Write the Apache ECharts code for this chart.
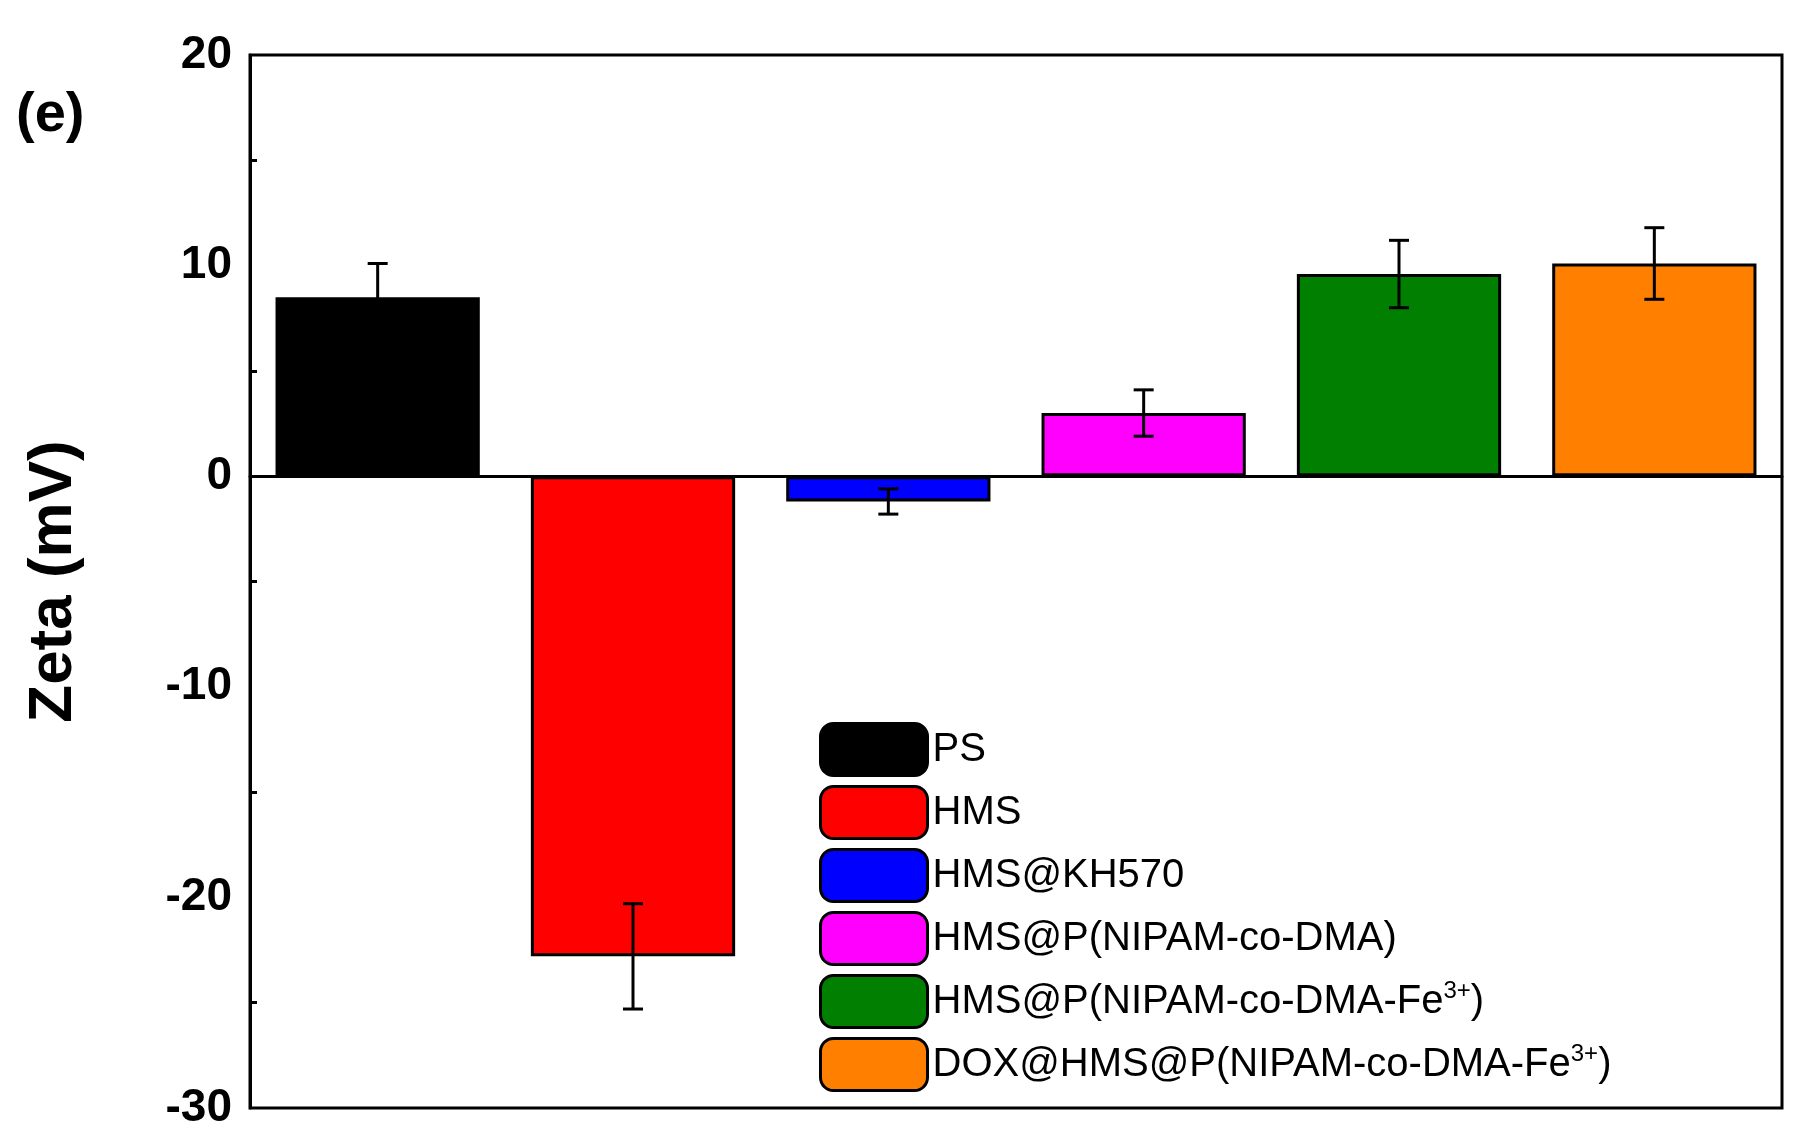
<!DOCTYPE html>
<html><head><meta charset="utf-8">
<script src="https://cdn.jsdelivr.net/npm/echarts@6/dist/echarts.min.js"></script>
<style>html,body{margin:0;padding:0;background:#fff}#c{width:1796px;height:1148px}</style>
</head><body><div id="c"></div>
<script>
const samples = ['PS', 'HMS', 'HMS@KH570', 'HMS@P(NIPAM-co-DMA)', 'HMS@P(NIPAM-co-DMA-Fe3+)', 'DOX@HMS@P(NIPAM-co-DMA-Fe3+)'];
const legendText = ['PS', 'HMS', 'HMS@KH570', 'HMS@P(NIPAM-co-DMA)', 'HMS@P(NIPAM-co-DMA-Fe{s|3+})', 'DOX@HMS@P(NIPAM-co-DMA-Fe{s|3+})'];
const zeta = [8.5, -22.8, -1.2, 3.0, 9.6, 10.1];
const errs = [1.6, 2.5, 0.6, 1.1, 1.6, 1.7];
const colors = ['#000000', '#ff0000', '#0000ff', '#ff00ff', '#007f00', '#ff8000'];

const chart = echarts.init(document.getElementById('c'));
const font = 'Liberation Sans';

const barSeries = samples.map((s, i) => ({
  name: s, type: 'bar', stack: 'z', barWidth: '80%',
  data: samples.map((_, j) => j === i ? zeta[j] : '-'),
  itemStyle: { color: colors[i], borderColor: '#000', borderWidth: 3 }
}));

const errSeries = {
  type: 'custom', z: 10,
  data: zeta.map((v, i) => [i, v - errs[i], v + errs[i]]),
  renderItem: (params, api) => {
    const lo = api.coord([api.value(0), api.value(1)]);
    const hi = api.coord([api.value(0), api.value(2)]);
    const w = 10;
    const st = { stroke: '#000', lineWidth: 3 };
    return { type: 'group', children: [
      { type: 'line', shape: { x1: lo[0], y1: lo[1], x2: hi[0], y2: hi[1] }, style: st },
      { type: 'line', shape: { x1: lo[0] - w, y1: lo[1], x2: lo[0] + w, y2: lo[1] }, style: st },
      { type: 'line', shape: { x1: hi[0] - w, y1: hi[1], x2: hi[0] + w, y2: hi[1] }, style: st }
    ]};
  }
};

chart.setOption({
  animation: false,
  textStyle: { fontFamily: font },
  grid: { left: 250, right: 14, top: 55, bottom: 40, show: true, borderColor: '#000', borderWidth: 3 },
  legend: {
    orient: 'vertical', left: 814, top: 717,
    itemWidth: 107, itemHeight: 52, itemGap: 8,
    data: samples,
    formatter: name => legendText[samples.indexOf(name)],
    textStyle: { fontSize: 40, color: '#000', fontFamily: font,
      rich: { s: { fontSize: 24, verticalAlign: 'top', padding: [0, 0, 20, 0], fontFamily: font } } },
    itemStyle: { borderColor: '#000', borderWidth: 3 }
  },
  xAxis: {
    type: 'category', data: samples,
    axisLine: { onZero: true, lineStyle: { color: '#000', width: 3 } },
    axisTick: { show: false }, axisLabel: { show: false }
  },
  yAxis: {
    type: 'value', min: -30, max: 20, interval: 10,
    name: 'Zeta (mV)', nameLocation: 'middle', nameGap: 165,
    nameTextStyle: { fontSize: 62, fontWeight: 'bold', color: '#000', fontFamily: font },
    axisLine: { show: true, lineStyle: { color: '#000', width: 3 } },
    axisTick: { inside: true, length: 10, lineStyle: { width: 3 } },
    minorTick: { show: true, splitNumber: 2, length: 7, lineStyle: { color: '#000', width: 3 } },
    splitLine: { show: false },
    axisLabel: { fontSize: 46, fontWeight: 'bold', color: '#000', margin: 18, fontFamily: font }
  },
  graphic: [{ type: 'text', left: 16, top: 88,
    style: { text: '(e)', font: 'bold 56px "Liberation Sans"', fill: '#000' } }],
  series: [...barSeries, errSeries]
});
</script></body></html>
